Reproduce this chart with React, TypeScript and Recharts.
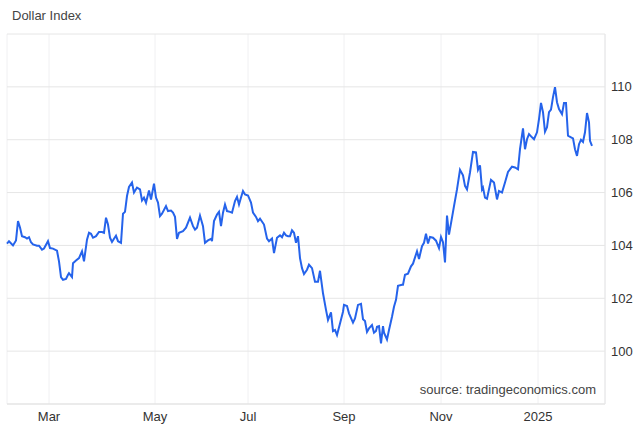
import React from 'react';
import { LineChart, Line, XAxis, YAxis, CartesianGrid } from 'recharts';

// session index (trading-day position along the axis) and index level
const sessions = [
  0, 2, 6, 9, 11, 13, 15, 18, 20, 22, 24, 26, 30, 32, 35, 37, 41, 43, 46, 50,
  52, 54, 56, 59, 61, 62, 65, 66, 69, 72, 75, 77, 80, 82, 84, 86, 89, 92, 95, 97,
  99, 101, 103, 105, 107, 109, 111, 114, 116, 118, 120, 122, 125, 127, 130, 133, 135, 137, 139, 142,
  144, 147, 149, 151, 153, 155, 159, 161, 164, 166, 168, 170, 172, 176, 179, 183, 186, 188, 190, 193,
  196, 198, 201, 204, 205, 207, 210, 212, 214, 216, 218, 220, 223, 225, 228, 230, 232, 234, 236, 238,
  241, 244, 246, 249, 251, 253, 257, 260, 262, 265, 267, 270, 273, 275, 277, 279, 281, 283, 285, 287,
  289, 291, 293, 295, 297, 300, 302, 305, 308, 311, 313, 316, 319, 321, 324, 326, 328, 330, 333, 336,
  337, 340, 342, 346, 348, 351, 354, 356, 358, 360, 362, 365, 367, 369, 370, 372, 374, 376, 377, 380,
  382, 385, 387, 389, 391, 395, 396, 398, 401, 404, 406, 410, 412, 415, 417, 419, 421, 423, 426, 429,
  432, 434, 436, 438, 440, 442, 445, 447, 450, 453, 456, 458, 460, 463, 466, 469, 471, 473, 475, 476,
  478, 480, 484, 487, 490, 492, 495, 498, 501, 505, 508, 511, 513, 516, 518, 520, 522, 525, 527, 530,
  532, 534, 536, 538, 540, 542, 544, 546, 548, 550, 552, 555, 557, 559, 561, 564, 566, 568, 570, 572,
  574, 576, 578, 580, 582, 583, 585,
];

const values = [
  104.07, 104.16, 104.0, 104.19, 104.92, 104.68, 104.35, 104.31, 104.26, 104.31, 104.12, 104.04, 103.99, 103.99, 103.84, 103.88, 104.16, 103.9, 103.88, 103.8,
  103.4, 102.8, 102.7, 102.73, 102.89, 102.95, 102.8, 103.33, 103.43, 103.52, 103.78, 103.4, 104.22, 104.48, 104.44, 104.29, 104.35, 104.51, 104.51, 104.48,
  105.05, 104.79, 104.29, 104.13, 104.25, 104.37, 104.16, 104.1, 105.2, 105.27, 105.87, 106.21, 106.38, 106.0, 106.19, 106.12, 105.7, 105.81, 105.62, 106.08,
  105.74, 106.34, 105.81, 105.62, 105.11, 105.2, 105.49, 105.3, 105.32, 105.24, 105.08, 104.25, 104.48, 104.54, 104.67, 105.05, 104.73, 104.6, 104.67, 105.13,
  104.73, 104.1, 104.19, 104.25, 104.16, 104.92, 105.17, 105.27, 104.73, 105.24, 105.55, 105.3, 105.27, 105.24, 105.68, 105.84, 105.55, 105.81, 106.06, 105.93,
  105.89, 105.62, 105.24, 105.08, 104.92, 105.01, 104.79, 104.26, 104.16, 104.26, 103.71, 104.29, 104.38, 104.31, 104.48, 104.38, 104.35, 104.35, 104.57, 104.48,
  104.1, 104.35, 103.52, 103.14, 102.92, 103.08, 103.27, 103.14, 102.63, 102.63, 103.04, 102.19, 101.56, 101.18, 101.47, 100.76, 100.8, 100.61, 101.05, 101.49,
  101.75, 101.71, 101.43, 101.08, 101.24, 101.75, 101.79, 101.21, 101.14, 100.73, 100.86, 100.99, 100.7, 100.76, 100.92, 100.95, 100.29, 100.95, 100.7, 100.44,
  100.8, 101.3, 101.68, 101.94, 102.47, 102.51, 102.51, 102.89, 102.93, 103.21, 103.31, 103.78, 103.49, 103.97, 104.1, 104.44, 104.07, 104.32, 104.29, 104.18,
  103.9, 104.32, 104.12, 103.36, 105.13, 104.41, 105.05, 105.49, 106.12, 106.86, 106.65, 106.25, 106.12, 106.76, 107.54, 107.52, 106.86, 107.03, 106.12, 106.19,
  105.81, 105.77, 106.48, 106.38, 105.74, 106.06, 106.0, 106.38, 106.78, 106.98, 106.95, 106.88, 107.64, 108.43, 107.64, 108.02, 108.21, 108.09, 108.02, 108.28,
  108.78, 109.39, 109.04, 108.3, 108.47, 109.04, 109.14, 109.61, 109.99, 109.42, 109.16, 108.97, 109.39, 109.39, 108.15, 108.09, 108.05, 107.64, 107.39, 107.83,
  108.0, 107.92, 108.28, 109.01, 108.66, 107.96, 107.77,
];

const monthTicks = [42, 148, 241, 337, 434, 531];
const monthLabels = ['Mar', 'May', 'Jul', 'Sep', 'Nov', '2025'];
const levelTicks = [98, 100, 102, 104, 106, 108, 110, 112];

const data = sessions.map((t, i) => ({ t, v: values[i] }));

const font = '"Liberation Sans", Arial, Helvetica, sans-serif';

export default function App() {
  return (
    <div style={{ position: 'absolute', left: 0, top: 0, width: 640, height: 430, background: '#fff', fontFamily: font }}>
      <div style={{ position: 'absolute', left: 12, top: 8, fontSize: 13, color: '#444' }}>Dollar Index</div>
      <LineChart width={640} height={430} data={data} margin={{ top: 34, right: 0, bottom: 0, left: 7 }}>
        <CartesianGrid horizontal={false} stroke="#f0f0f2" />
        <CartesianGrid vertical={false} stroke="#e6e6e6" />
        <XAxis
          type="number"
          dataKey="t"
          domain={[0, 598]}
          ticks={monthTicks}
          interval={0}
          tickFormatter={(t: number) => monthLabels[monthTicks.indexOf(t)] ?? ''}
          tickLine={false}
          axisLine={{ stroke: '#e3e3e3' }}
          tick={{ fill: '#333', fontSize: 13 }}
          height={26}
        />
        <YAxis
          orientation="right"
          domain={[98, 112]}
          ticks={levelTicks}
          interval={0}
          tickFormatter={(v: number) => (v === 98 || v === 112 ? '' : String(v))}
          tickLine={false}
          tickSize={4}
          tickMargin={2}
          axisLine={{ stroke: '#e6e6e6' }}
          tick={{ fill: '#333', fontSize: 13, textAnchor: 'start' }}
          width={35}
        />
        <Line type="linear" dataKey="v" stroke="#2563eb" strokeWidth={2} dot={false} isAnimationActive={false} />
      </LineChart>
      <div style={{ position: 'absolute', right: 44, top: 382, fontSize: 13, color: '#444' }}>source: tradingeconomics.com</div>
    </div>
  );
}
